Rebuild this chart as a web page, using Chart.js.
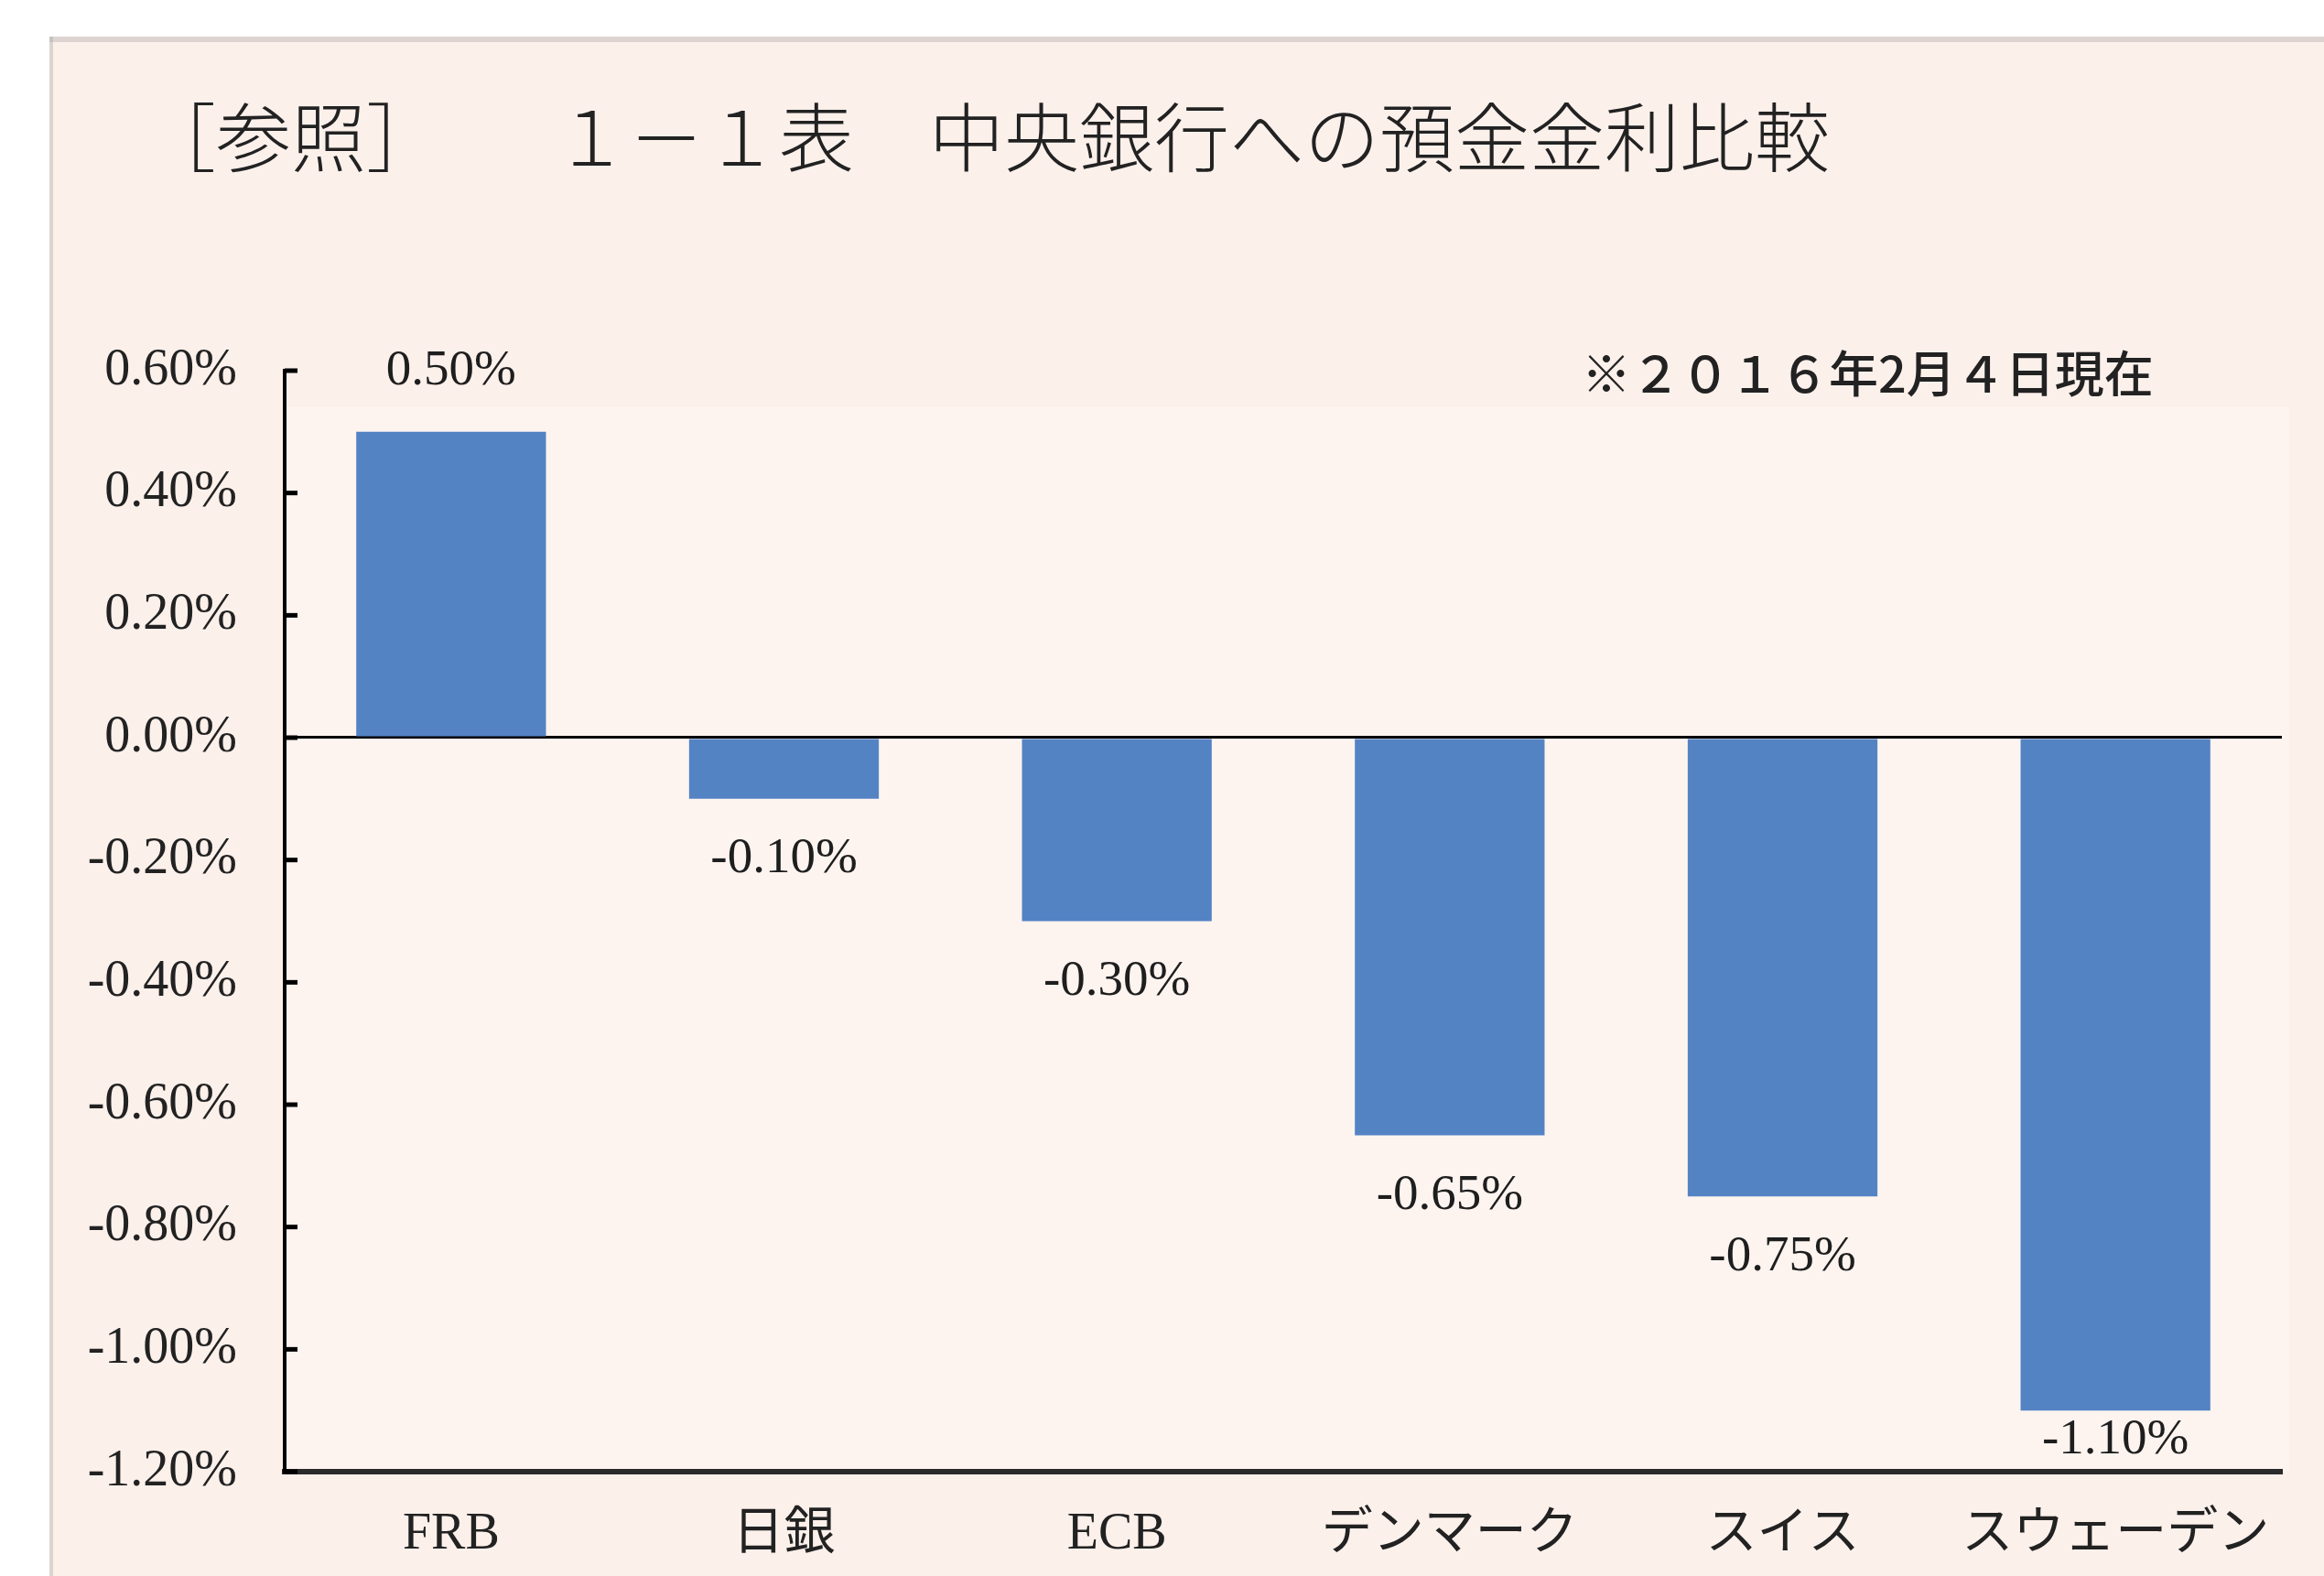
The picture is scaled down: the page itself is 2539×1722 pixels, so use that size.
<!DOCTYPE html>
<html>
<head>
<meta charset="utf-8">
<script src="https://cdn.jsdelivr.net/npm/chart.js@4/dist/chart.umd.min.js"></script>
<style>
  html, body { margin: 0; padding: 0; background: #ffffff; }
  #wrap { width: 2539px; height: 1722px; }
</style>
</head>
<body>
<div id="wrap"><canvas id="c" width="2539" height="1722"></canvas></div>
<script>
// ---- data ----
const categories = ['FRB', '日銀', 'ECB', 'デンマーク', 'スイス', 'スウェーデン'];
const rates = [0.50, -0.10, -0.30, -0.65, -0.75, -1.10];
const yMin = -1.2;
const yMax = 0.6;
const yStep = 0.2;
const titleText = '［参照］　　１－１表　中央銀行への預金金利比較';
const noteText = '※２０１６年2月４日現在';

const SERIF = '"Liberation Serif", "Noto Sans CJK JP", serif';
const fmt = v => (Math.round(v * 100) / 100).toFixed(2) + '%';

const backgroundPlugin = {
  id: 'bgPanel',
  beforeDraw(chart) {
    const ctx = chart.ctx;
    ctx.save();
    ctx.fillStyle = '#ffffff';
    ctx.fillRect(0, 0, chart.width, chart.height);
    ctx.fillStyle = '#fcf0eb';
    ctx.fillRect(54, 40, chart.width - 54, chart.height - 40);
    // faint shadow edges of the scanned page
    ctx.fillStyle = 'rgba(150,150,150,0.3)';
    ctx.fillRect(54, 40, chart.width - 54, 6);
    ctx.fillRect(54, 40, 4, chart.height - 40);
    // slightly lighter plot panel
    const a = chart.chartArea;
    ctx.fillStyle = '#fdf4f0';
    ctx.fillRect(a.left, a.top + 40, a.right - a.left + 8, a.bottom - a.top - 40);
    ctx.restore();
  }
};

const textPlugin = {
  id: 'texts',
  afterDraw(chart) {
    const ctx = chart.ctx;
    ctx.save();
    ctx.fillStyle = '#222';
    ctx.textAlign = 'left';
    ctx.textBaseline = 'middle';
    ctx.font = '300 82px "Noto Sans CJK JP"';
    ctx.fillText(titleText, 154, 150);
    ctx.font = '500 54px "Noto Sans CJK JP"';
    ctx.fillText(noteText, 1728, 408);
    ctx.restore();
  }
};

const innerTicksPlugin = {
  id: 'innerTicks',
  afterDraw(chart) {
    const ctx = chart.ctx;
    const ys = chart.scales.y;
    const x0 = chart.chartArea.left;
    ctx.save();
    ctx.strokeStyle = '#000';
    ctx.lineWidth = 5;
    ys.ticks.forEach(t => {
      const py = ys.getPixelForValue(t.value);
      ctx.beginPath();
      ctx.moveTo(x0, py);
      ctx.lineTo(x0 + 14, py);
      ctx.stroke();
    });
    ctx.restore();
  }
};

const valueLabelsPlugin = {
  id: 'valueLabels',
  afterDatasetsDraw(chart) {
    const ctx = chart.ctx;
    const meta = chart.getDatasetMeta(0);
    const data = chart.data.datasets[0].data;
    const bottomLimit = chart.chartArea.bottom - 34;
    ctx.save();
    ctx.fillStyle = '#1e1e1e';
    ctx.font = '55px ' + SERIF;
    ctx.textAlign = 'center';
    ctx.textBaseline = 'middle';
    meta.data.forEach((el, i) => {
      const v = data[i];
      let y = v >= 0 ? el.y - 66 : el.y + 66;
      if (y > bottomLimit) y = bottomLimit;
      ctx.fillText(fmt(v), el.x, y);
    });
    ctx.restore();
  }
};

new Chart(document.getElementById('c'), {
  type: 'bar',
  data: {
    labels: categories,
    datasets: [{
      data: rates,
      backgroundColor: '#5483c4',
      borderWidth: 0,
      barPercentage: 0.57,
      categoryPercentage: 1.0
    }]
  },
  options: {
    responsive: false,
    animation: false,
    layout: { padding: { top: 405, right: 46, left: 0, bottom: 0 } },
    plugins: {
      legend: { display: false },
      tooltip: { enabled: false },
      title: { display: false }
    },
    scales: {
      x: {
        grid: { display: false, drawTicks: false },
        border: { display: true, color: '#2a2a2a', width: 6 },
        ticks: {
          color: '#222',
          padding: 36,
          font: { family: SERIF, size: 56 }
        },
        afterFit(s) { s.height = 1722 - 1608; }
      },
      y: {
        min: yMin,
        max: yMax,
        grid: {
          drawTicks: false,
          color: c => (c.tick && Math.abs(c.tick.value) < 1e-9) ? '#000' : 'rgba(0,0,0,0)',
          lineWidth: 3
        },
        border: { display: true, color: '#000', width: 4 },
        ticks: {
          stepSize: yStep,
          color: '#222',
          padding: 52,
          font: { family: SERIF, size: 56 },
          callback: v => fmt(v)
        },
        afterFit(s) { s.width = 311; }
      }
    }
  },
  plugins: [backgroundPlugin, valueLabelsPlugin, innerTicksPlugin, textPlugin]
});
</script>
</body>
</html>
